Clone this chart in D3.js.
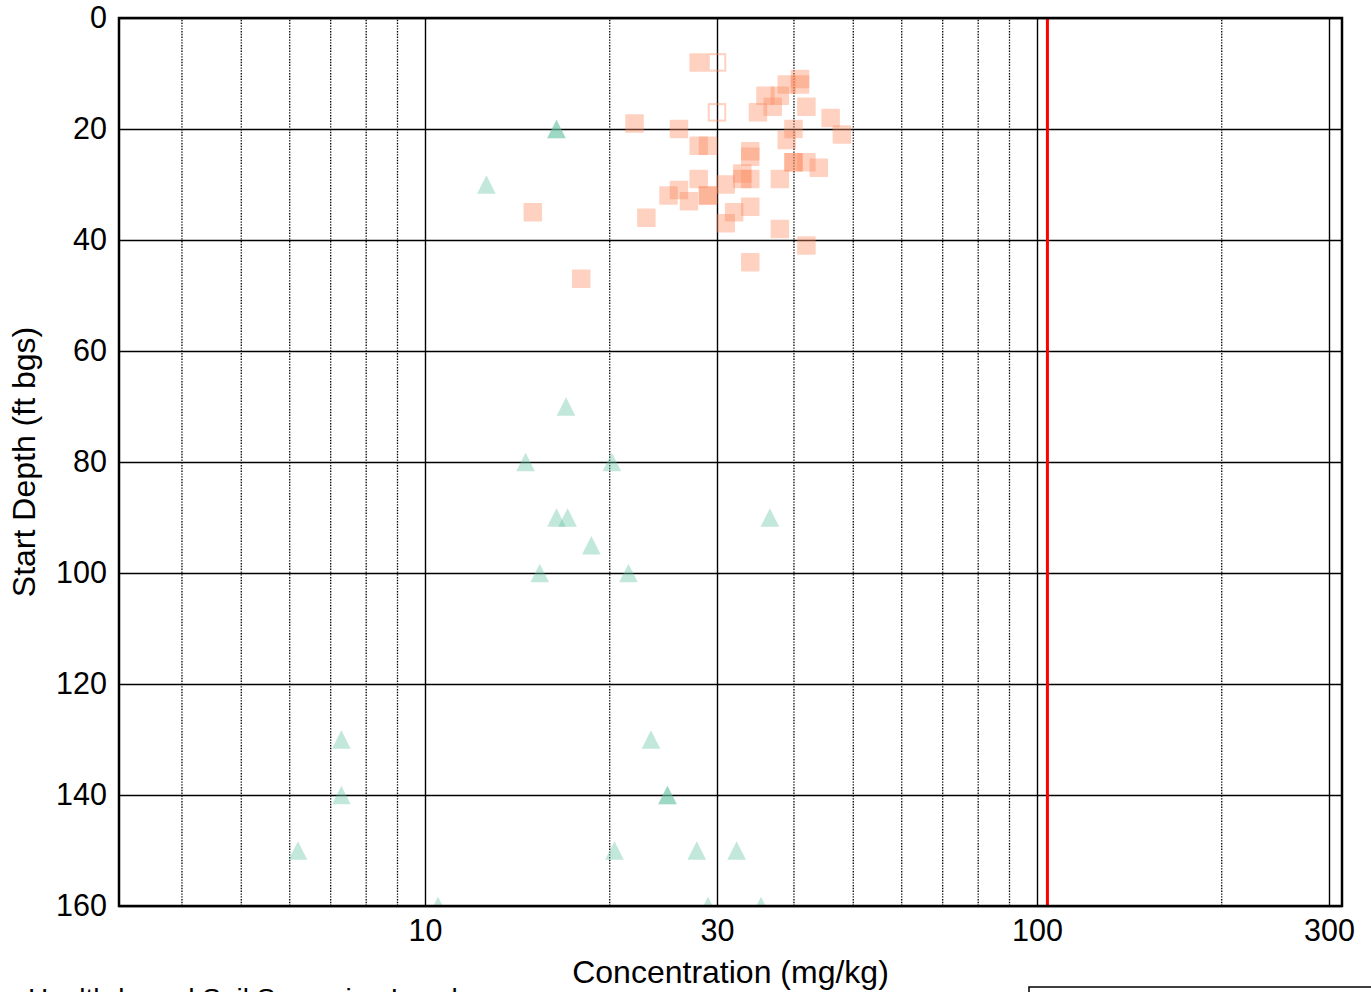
<!DOCTYPE html>
<html>
<head>
<meta charset="utf-8">
<script src="https://cdn.jsdelivr.net/npm/d3@7"></script>
<style>
  html, body { margin: 0; padding: 0; background: #fff; }
  svg { display: block; }
  text { font-family: "Liberation Sans", Arial, Helvetica, sans-serif; fill: #000; }
</style>
</head>
<body>
<svg id="chart" width="1371" height="992"></svg>
<script>
// ---------------- data ----------------
const squareConc  = [28, 22, 26, 28, 29, 34, 34, 40, 39, 46, 48, 40, 40, 42, 44, 28, 33, 33, 34, 38, 31, 26, 25, 27, 29, 29, 34, 32, 31, 23, 38, 42, 34, 41, 41, 39, 36, 38, 37, 35, 42, 15, 18];
const squareDepth = [ 8, 19, 20, 23, 23, 24, 25, 20, 22, 18, 21, 26, 26, 26, 27, 29, 28, 29, 29, 29, 30, 31, 32, 33, 32, 32, 34, 35, 37, 36, 38, 41, 44, 11, 12, 12, 14, 14, 16, 17, 16, 35, 47];
const hollowConc  = [30, 30];
const hollowDepth = [8, 17];
const triConc  = [16.4, 16.4, 12.6, 17, 14.6, 20.2, 16.4, 17.1, 36.6, 18.7, 15.4, 21.5, 7.3, 23.4, 7.3, 24.9, 24.9, 6.2, 20.4, 27.8, 32.3, 10.5, 29, 35.4];
const triDepth = [20, 20, 30, 70, 80, 80, 90, 90, 90, 95, 100, 100, 130, 130, 140, 140, 140, 150, 150, 150, 150, 160, 160, 160];
const screeningLevel = 104;
const xMajorTicks = [10, 30, 100, 300];
const xMinorTicks = [4, 5, 6, 7, 8, 9, 20, 40, 50, 60, 70, 80, 90, 200];
const yTicks = [0, 20, 40, 60, 80, 100, 120, 140, 160];
const xTitle = "Concentration (mg/kg)";
const yTitle = "Start Depth (ft bgs)";
const legendTitle = "Health-based Soil Screening Level";

// ---------------- layout ----------------
const L = 119, R = 1342, T = 18, B = 906;
const svg = d3.select("#chart");
const x = d3.scaleLog().domain([Math.sqrt(10), Math.pow(10, 2.5)]).range([L, L + 1224]);
const y = d3.scaleLinear().domain([0, 160]).range([T, B]);

svg.append("defs").append("clipPath").attr("id", "plotclip")
  .append("rect").attr("x", L).attr("y", T).attr("width", R - L).attr("height", B - T);

// minor vertical grid (dotted)
svg.append("g").attr("transform", `translate(0,${B})`)
  .call(d3.axisBottom(x).tickValues(xMinorTicks).tickSize(-(B - T)).tickFormat(""))
  .call(g => g.select(".domain").remove())
  .call(g => g.selectAll("line").attr("stroke", "#000").attr("stroke-width", 1.3).attr("stroke-dasharray", "1.4,1.4"));

// major vertical grid
svg.append("g").attr("transform", `translate(0,${B})`)
  .call(d3.axisBottom(x).tickValues(xMajorTicks).tickSize(-(B - T)).tickFormat(""))
  .call(g => g.select(".domain").remove())
  .call(g => g.selectAll("line").attr("stroke", "#000").attr("stroke-width", 1.4));

// horizontal grid
svg.append("g").attr("transform", `translate(${L},0)`)
  .call(d3.axisLeft(y).tickValues(yTicks).tickSize(-(R - L)).tickFormat(""))
  .call(g => g.select(".domain").remove())
  .call(g => g.selectAll("line").attr("stroke", "#000").attr("stroke-width", 1.4));

// markers
const plot = svg.append("g").attr("clip-path", "url(#plotclip)");
const sq = 18.5;
const sqColor = "#fc8d62", triColor = "#66c2a5";

plot.append("g").selectAll("rect").data(d3.range(squareConc.length)).join("rect")
  .attr("x", i => x(squareConc[i]) - sq / 2)
  .attr("y", i => y(squareDepth[i]) - sq / 2)
  .attr("width", sq).attr("height", sq).attr("rx", 1)
  .attr("fill", sqColor).attr("opacity", 0.4);

plot.append("g").selectAll("rect").data(d3.range(hollowConc.length)).join("rect")
  .attr("x", i => x(hollowConc[i]) - (sq - 2) / 2)
  .attr("y", i => y(hollowDepth[i]) - (sq - 2) / 2)
  .attr("width", sq - 2).attr("height", sq - 2)
  .attr("fill", "none").attr("stroke", sqColor).attr("stroke-width", 2).attr("opacity", 0.4);

const triPath = d3.symbol().type({
  draw(ctx, size) {
    const h = 9.3;
    ctx.moveTo(0, -h); ctx.lineTo(h, h); ctx.lineTo(-h, h); ctx.closePath();
  }
})();
plot.append("g").selectAll("path").data(d3.range(triConc.length)).join("path")
  .attr("transform", i => `translate(${x(triConc[i])},${y(triDepth[i])})`)
  .attr("d", triPath)
  .attr("fill", triColor).attr("opacity", 0.4);

// screening level line
plot.append("line")
  .attr("x1", x(screeningLevel)).attr("x2", x(screeningLevel))
  .attr("y1", T).attr("y2", B)
  .attr("stroke", "#ff0000").attr("stroke-width", 3);

// frame
svg.append("rect").attr("x", L).attr("y", T).attr("width", R - L).attr("height", B - T)
  .attr("fill", "none").attr("stroke", "#000").attr("stroke-width", 2.5);

// tick labels
svg.append("g").attr("transform", `translate(0,${B})`)
  .call(d3.axisBottom(x).tickValues(xMajorTicks).tickSize(0).tickPadding(13).tickFormat(d3.format("d")))
  .call(g => g.select(".domain").remove())
  .call(g => g.selectAll("text").attr("font-size", 30.5).attr("fill", "#000")
    .attr("font-family", '"Liberation Sans", Arial, sans-serif'));

svg.append("g").attr("transform", `translate(${L},0)`)
  .call(d3.axisLeft(y).tickValues(yTicks).tickSize(0).tickPadding(12).tickFormat(d3.format("d")))
  .call(g => g.select(".domain").remove())
  .call(g => g.selectAll("text").attr("font-size", 30.5).attr("fill", "#000")
    .attr("font-family", '"Liberation Sans", Arial, sans-serif'));

// axis titles
svg.append("text").attr("x", (L + R) / 2).attr("y", 983)
  .attr("text-anchor", "middle").attr("font-size", 32).text(xTitle);
svg.append("text").attr("transform", `translate(35,${(T + B) / 2}) rotate(-90)`)
  .attr("text-anchor", "middle").attr("font-size", 32).text(yTitle);

// legend (partially outside the view, as in the reference)
svg.append("text").attr("x", 28).attr("y", 1008).attr("font-size", 28).text(legendTitle);
svg.append("rect").attr("x", 1029).attr("y", 987).attr("width", 400).attr("height", 100)
  .attr("fill", "none").attr("stroke", "#000").attr("stroke-width", 1.5);
</script>
</body>
</html>
